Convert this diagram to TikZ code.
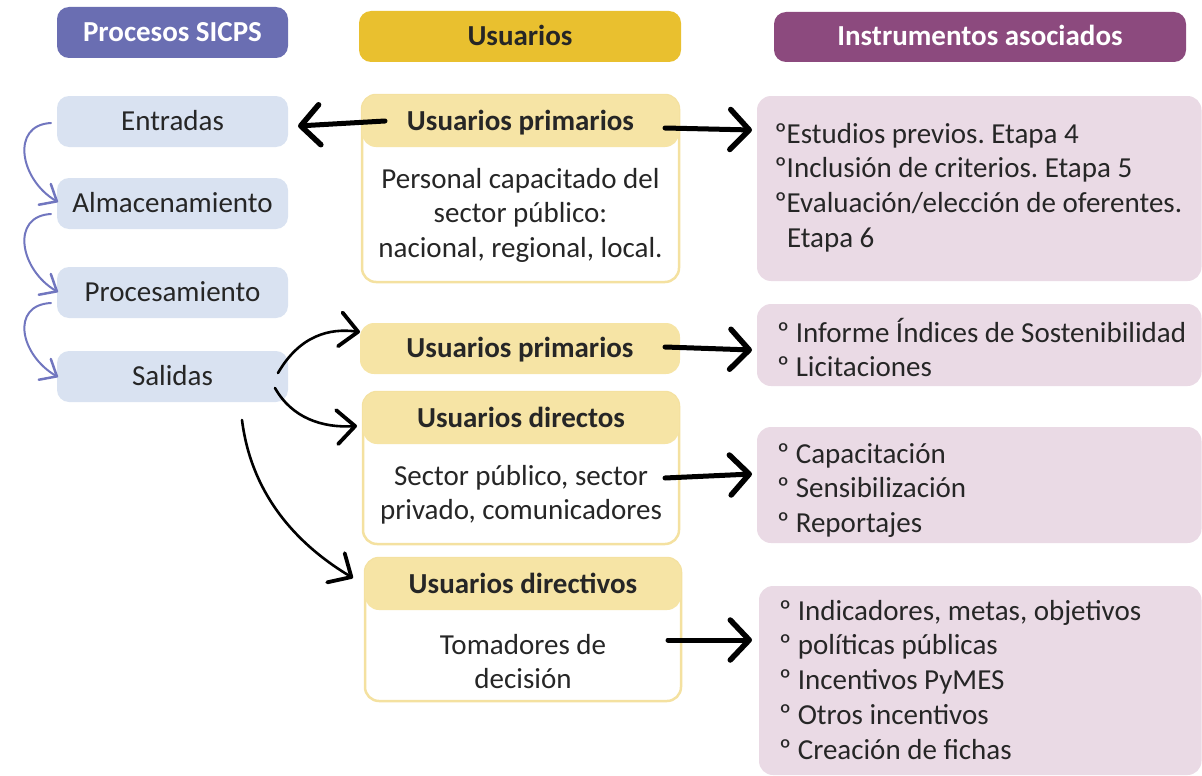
\documentclass[tikz,border=0pt]{standalone}
\usepackage{fontspec}
\setmainfont{Carlito}
\usetikzlibrary{arrows.meta,calc}
\frenchspacing
\definecolor{hdrblue}{HTML}{6A6EB2}
\definecolor{lightblue}{HTML}{D9E2F1}
\definecolor{gold}{HTML}{E9C02F}
\definecolor{lightgold}{HTML}{F6E4A5}
\definecolor{goldborder}{HTML}{F4E1A0}
\definecolor{plum}{HTML}{8C4A7E}
\definecolor{pinkbox}{HTML}{EADAE5}
\definecolor{bluearrow}{HTML}{7176BF}
\definecolor{textdark}{HTML}{262626}
\newcommand\mlines[2][c]{\begin{tabular}[t]{@{}#1@{}}#2\end{tabular}}
\begin{document}
\begin{tikzpicture}[x=1pt,y=-1pt,
  every node/.style={inner sep=0pt, outer sep=0pt, text=textdark},
  hdr/.style={rounded corners=12pt, minimum height=51pt, text height=20pt, text depth=2pt,
    font=\bfseries\fontsize{29}{34}\selectfont},
  procbox/.style={fill=lightblue, rounded corners=12pt, minimum width=231pt, minimum height=51pt,
    text height=20pt, text depth=3pt, font=\fontsize{29}{34}\selectfont},
  ubox/.style={draw=goldborder, line width=2.5pt, fill=white, rounded corners=14pt, anchor=north west},
  band/.style={fill=lightgold, rounded corners=14pt, minimum height=52pt, text height=20pt, text depth=2pt,
    font=\bfseries\fontsize{29}{34}\selectfont},
  ibox/.style={fill=pinkbox, rounded corners=14pt, anchor=north west},
  txt/.style={font=\fontsize{29}{34.8}\selectfont, anchor=base},
  ltxt/.style={font=\fontsize{29}{34.9}\selectfont, anchor=base west},
  bigarr/.style={line width=5pt, line cap=round, -{Straight Barb[round,length=19pt,width=40pt,line width=5.5pt]}},
  thinarr/.style={line width=2.6pt, line cap=round, -{Straight Barb[round,length=18pt,width=34pt,line width=3.8pt]}},
  bluearr/.style={bluearrow, line width=2pt, line cap=round, -{Straight Barb[round,length=14pt,width=24pt,line width=2.5pt]}}
]
\useasboundingbox (0,0) rectangle (1202,776);

% headers
\node[hdr, fill=hdrblue, text=white, minimum width=231pt] (h1) at (172.5,32.5) {Procesos SICPS};
\node[hdr, fill=gold, minimum width=322pt] (h2) at (520,36.5) {Usuarios};
\node[hdr, fill=plum, text=white, minimum width=412pt, minimum height=50pt] (h3) at (980,37) {Instrumentos asociados};

% process column
\node[procbox] (ent) at (172.5,121.5) {Entradas};
\node[procbox] (alm) at (172.5,203.5) {Almacenamiento};
\node[procbox] (proc) at (172.5,292.5) {Procesamiento};
\node[procbox] (sal) at (172.5,376.5) {Salidas};

% users column
\node[ubox, minimum width=317pt, minimum height=187pt] (m1) at (362,95) {};
\node[band, minimum width=317pt] (m1h) at (520.5,121) {Usuarios primarios};
\node[txt] (m1b) at (520.5,188) {\mlines{Personal capacitado del\\sector público:\\nacional, regional, local.}};

\node[band, minimum width=320pt, minimum height=51pt] (m2) at (520,348.5) {Usuarios primarios};

\node[ubox, minimum width=316pt, minimum height=152pt] (m3) at (363,392) {};
\node[band, minimum width=316pt] (m3h) at (521,418) {Usuarios directos};
\node[txt] (m3b) at (521,485) {\mlines{Sector público, sector\\privado, comunicadores}};

\node[ubox, minimum width=316pt, minimum height=143pt] (m4) at (365,558) {};
\node[band, minimum width=316pt] (m4h) at (523,584) {Usuarios directivos};
\node[txt] (m4b) at (523,654) {\mlines{Tomadores de\\decisión}};

% instruments column
\node[ibox, minimum width=444.5pt, minimum height=185pt] (r1) at (757,96) {};
\node[ltxt] (r1t) at (774.5,143) {\mlines[l]{ºEstudios previos. Etapa 4\\ºInclusión de criterios. Etapa 5\\ºEvaluación/elección de oferentes.\\\hspace*{12.5pt}Etapa 6}};

\node[ibox, minimum width=444.5pt, minimum height=82pt] (r2) at (757,304) {};
\node[ltxt] (r2t) at (777,342) {\mlines[l]{º Informe Índices de Sostenibilidad\\º Licitaciones}};

\node[ibox, minimum width=444.5pt, minimum height=116pt] (r3) at (757,427) {};
\node[ltxt] (r3t) at (777,463) {\mlines[l]{º Capacitación\\º Sensibilización\\º Reportajes}};

\node[ibox, minimum width=442.5pt, minimum height=189pt] (r4) at (759,586) {};
\node[ltxt] (r4t) at (779,620) {\mlines[l]{º Indicadores, metas, objetivos\\º políticas públicas\\º Incentivos PyMES\\º Otros incentivos\\º Creación de fichas}};

% blue process arrows
\draw[bluearr] ($(ent.west)+(-6,1.5)$) .. controls +(-41,2) and +(-38,-22) .. ($(alm.west)+(1,-1.5)$);
\draw[bluearr] ($(alm.west)+(-6,10.5)$) .. controls +(-41,2) and +(-38,-22) .. ($(proc.west)+(1,-0.5)$);
\draw[bluearr] ($(proc.west)+(-6,10.5)$) .. controls +(-41,2) and +(-38,-22) .. ($(sal.west)+(1,0.5)$);

% thick black arrows
\draw[bigarr] ($(m1h.west)+(23,0)$) -- ($(ent.east)+(10,4.5)$);
\draw[bigarr] ($(m1h.east)+(-14,7)$) -- ($(r1.west |- m1h.east)+(-5,9)$);
\draw[bigarr] ($(m2.east)+(-15,-1.5)$) -- ($(r2.west |- m2.east)+(-5,1.5)$);
\draw[bigarr] ($(m3.east)+(-14,10)$) -- ($(r3.west |- m3.east)+(-5,6)$);
\draw[bigarr] ($(m4.east)+(-13,10.5)$) -- ($(r4.west |- m4.east)+(-7,10.5)$);

% thin curved arrows from Salidas
\draw[thinarr] ($(sal.east)+(-10,-3.5)$) .. controls +(22,-38) and +(-30,-4) .. ($(m2.west)+(0,-16.5)$);
\draw[thinarr] ($(sal.east)+(-13,11.5)$) .. controls +(17,30) and +(-35,2) .. ($(m3.west)+(-6,-42)$);
\draw[thinarr] ($(sal.south)+(69.5,18)$) .. controls +(10,80) and +(-50,-30) .. ($(m4.west)+(-12,-51.5)$);
\end{tikzpicture}
\end{document}
